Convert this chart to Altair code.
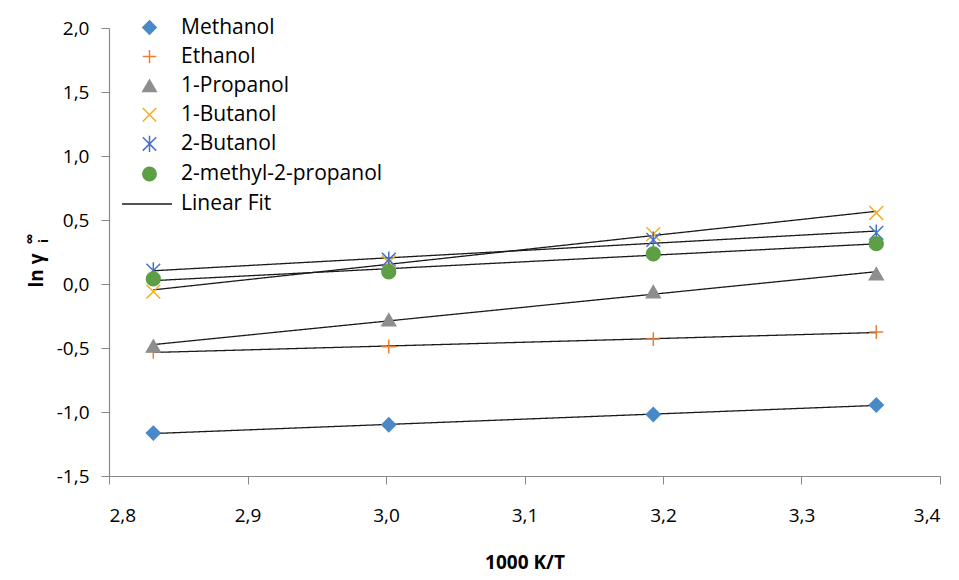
import altair as alt
import pandas as pd

# 1000 K / T for T = 353.15, 333.15, 313.15, 298.15 K
x_vals = [2.832, 3.002, 3.193, 3.354]
series = ["Methanol", "Ethanol", "1-Propanol", "1-Butanol", "2-Butanol", "2-methyl-2-propanol"]
methanol = [-1.165, -1.10, -1.02, -0.945]
ethanol = [-0.53, -0.49, -0.43, -0.375]
propanol1 = [-0.485, -0.28, -0.06, 0.08]
butanol1 = [-0.06, 0.17, 0.39, 0.555]
butanol2 = [0.105, 0.19, 0.345, 0.40]
mmp = [0.04, 0.095, 0.235, 0.315]
values = [methanol, ethanol, propanol1, butanol1, butanol2, mmp]

colors = ["#4A89C8", "#ED7D31", "#8E8E8E", "#F0B020", "#4472C4", "#5E9E45"]
fills = ["#4A89C8", "transparent", "#8E8E8E", "transparent", "transparent", "#5E9E45"]
shapes = [
    "diamond",
    "M-1,0L1,0M0,-1L0,1",
    "triangle-up",
    "M-1,-1L1,1M-1,1L1,-1",
    "M-1,-1L1,1M-1,1L1,-1M0,-1.2L0,1.2",
    "circle",
]

rows = []
for s, vals in zip(series, values):
    for x, v in zip(x_vals, vals):
        rows.append({"series": s, "x": x, "y": v})
df = pd.DataFrame(rows)

FONT = "Open Sans"
comma = "replace(replace(format(datum.value, '.1f'), '.', ','), '\u2212', '-')"

xscale = alt.Scale(domain=[2.8, 3.4], nice=False, zero=False)
yscale = alt.Scale(domain=[-1.5, 2.0], nice=False, zero=False)

base = alt.Chart(df)

fits = base.transform_regression(
    "x", "y", groupby=["series"]
).transform_calculate(
    fit="'Linear Fit'"
).mark_line(color="#1a1a1a", strokeWidth=1.3).encode(
    x=alt.X("x:Q", scale=xscale),
    y=alt.Y("y:Q", scale=yscale),
    detail="series:N",
    strokeDash=alt.StrokeDash(
        "fit:N",
        scale=alt.Scale(domain=["Linear Fit"], range=[[1, 0]]),
        legend=alt.Legend(
            title=None, orient="none", legendX=12, legendY=150,
            symbolType="stroke", symbolSize=2500, symbolStrokeColor="#1a1a1a",
            symbolStrokeWidth=1.3, labelFontSize=21, labelFont=FONT,
            labelColor="black", labelOffset=8, labelLimit=0,
        ),
    ),
)

leg = alt.Legend(
    title=None, orient="none", legendX=30, legendY=-11,
    labelFontSize=21, labelFont=FONT, labelColor="black", labelLimit=0,
    symbolSize=180, symbolStrokeWidth=1.5, rowPadding=7.1, labelOffset=21,
)

points = base.mark_point(filled=False, strokeWidth=1.5, size=190, opacity=1).encode(
    x=alt.X(
        "x:Q", scale=xscale,
        axis=alt.Axis(
            title="1000 K/T", values=[2.8, 2.9, 3.0, 3.1, 3.2, 3.3, 3.4],
            labelExpr=comma, grid=False, tickSize=8, labelPadding=22,
            titlePadding=28,
        ),
    ),
    y=alt.Y(
        "y:Q", scale=yscale,
        axis=alt.Axis(
            title="ln γ", values=[-1.5, -1.0, -0.5, 0.0, 0.5, 1.0, 1.5, 2.0],
            labelExpr=comma, grid=False, tickSize=8, labelPadding=12,
            titlePadding=10, titleY=242,
        ),
    ),
    color=alt.Color("series:N", sort=series, scale=alt.Scale(domain=series, range=colors), legend=leg),
    fill=alt.Fill("series:N", sort=series, scale=alt.Scale(domain=series, range=fills), legend=leg),
    shape=alt.Shape("series:N", sort=series, scale=alt.Scale(domain=series, range=shapes), legend=leg),
)

sup = alt.Chart(pd.DataFrame({"t": ["∞"]})).mark_text(
    angle=270, fontSize=15, fontWeight="bold", font=FONT, color="black"
).encode(text="t:N", x=alt.value(-79), y=alt.value(211))
sub = alt.Chart(pd.DataFrame({"t": ["i"]})).mark_text(
    angle=270, fontSize=13, fontWeight="bold", font=FONT, color="black"
).encode(text="t:N", x=alt.value(-65), y=alt.value(213))

chart = alt.layer(fits, points, sup, sub).properties(
    width=831, height=448,
    autosize="none",
    padding={"left": 101, "top": 20, "right": 11, "bottom": 102},
).configure_view(stroke=None).configure_axis(
    labelFont=FONT, labelFontSize=19, labelColor="black",
    titleFont=FONT, titleFontSize=19, titleFontWeight="bold", titleColor="black",
    domainColor="#888888", tickColor="#888888", domainWidth=1.2,
).resolve_legend(color="shared")

chart.save("out.html", embed_options={"renderer": "svg", "actions": False})
